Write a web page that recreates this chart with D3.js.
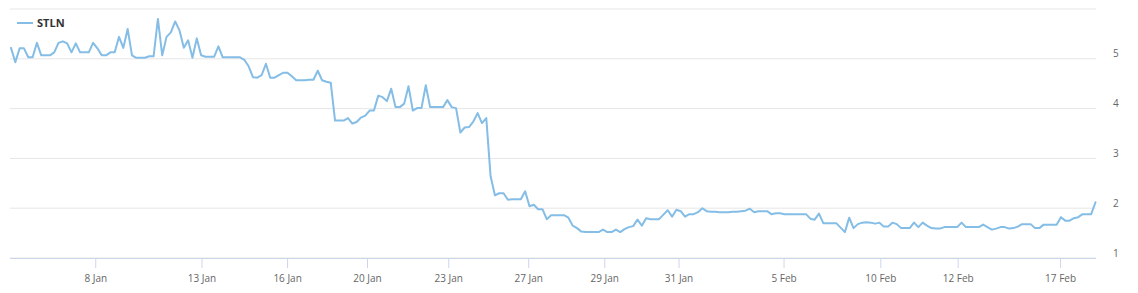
<!DOCTYPE html>
<html><head><meta charset="utf-8">
<script src="https://cdn.jsdelivr.net/npm/d3@7"></script>
<style>
body{margin:0;background:#fff}
svg{display:block;font-family:"Open Sans",sans-serif}
</style>
</head><body>
<svg id="c" width="1138" height="293"></svg>
<script>
const seriesName = "STLN";
const values = [
5.21,4.92,5.20,5.20,5.02,5.02,5.31,5.06,5.06,5.06,
5.12,5.31,5.34,5.30,5.12,5.30,5.12,5.12,5.12,5.31,
5.20,5.06,5.06,5.12,5.12,5.43,5.21,5.59,5.06,5.01,
5.01,5.01,5.04,5.04,5.79,5.06,5.43,5.52,5.74,5.56,
5.21,5.36,5.01,5.40,5.06,5.03,5.03,5.03,5.24,5.02,
5.02,5.02,5.02,5.02,4.97,4.84,4.62,4.61,4.66,4.89,
4.61,4.61,4.66,4.71,4.71,4.64,4.56,4.56,4.56,4.57,
4.57,4.75,4.56,4.53,4.51,3.75,3.75,3.75,3.80,3.69,
3.72,3.81,3.85,3.95,3.95,4.25,4.22,4.14,4.39,4.02,
4.02,4.09,4.44,3.95,4.00,4.00,4.46,4.02,4.02,4.02,
4.02,4.16,4.02,4.00,3.51,3.61,3.62,3.73,3.90,3.70,
3.80,2.63,2.25,2.29,2.29,2.16,2.17,2.17,2.17,2.33,
2.03,2.06,1.97,1.97,1.77,1.85,1.85,1.85,1.85,1.80,
1.64,1.59,1.52,1.51,1.51,1.51,1.51,1.56,1.51,1.51,
1.56,1.51,1.57,1.61,1.63,1.76,1.64,1.79,1.77,1.77,
1.77,1.86,1.95,1.82,1.96,1.93,1.82,1.87,1.87,1.91,
1.99,1.93,1.92,1.92,1.91,1.91,1.91,1.92,1.92,1.93,
1.94,1.98,1.91,1.93,1.93,1.93,1.87,1.89,1.89,1.87,
1.87,1.87,1.87,1.87,1.87,1.78,1.76,1.88,1.69,1.69,
1.69,1.69,1.60,1.51,1.80,1.59,1.67,1.70,1.71,1.70,
1.68,1.70,1.62,1.62,1.70,1.67,1.59,1.59,1.59,1.70,
1.61,1.70,1.64,1.59,1.58,1.58,1.61,1.61,1.61,1.61,
1.70,1.61,1.61,1.61,1.61,1.66,1.61,1.56,1.58,1.61,
1.61,1.58,1.59,1.62,1.67,1.67,1.67,1.59,1.59,1.66,
1.66,1.66,1.66,1.81,1.74,1.74,1.79,1.81,1.87,1.87,
1.87,2.11
];
// x ticks, expressed as positions in the data's point index (ordinal axis)
const tickPositions = [19.5, 44.1, 63.9, 82.4, 101.2, 119.7, 137.3, 154.5, 178.8, 201.2, 219.1, 242.8];
const tickLabels = ["8 Jan","13 Jan","16 Jan","20 Jan","23 Jan","27 Jan","29 Jan","31 Jan","5 Feb","10 Feb","12 Feb","17 Feb"];
const yTicks = [1,2,3,4,5,6];
const yTickLabels = ["1","2","3","4","5",""];

const svg = d3.select("#c");
const left = 10, right = 1096, bottom = 258;
const x = d3.scaleLinear().domain([0, values.length - 1]).range([11, 1095.5]);
const y = d3.scaleLinear().domain([1, 6]).range([257.5, 8.5]);

// y axis with gridlines (right side)
const yAxis = d3.axisRight(y).tickValues(yTicks)
  .tickSize(-(right - left)).tickPadding(17)
  .tickFormat((d, i) => yTickLabels[i]);
const gy = svg.append("g").attr("transform", `translate(${right},0)`).call(yAxis);
gy.select(".domain").remove();
gy.selectAll(".tick line").attr("stroke", "#e6e6e6").attr("stroke-width", 1);
gy.selectAll(".tick text").attr("fill", "#666666").style("font-size", "10px")
  .style("font-family", '"Open Sans",sans-serif').attr("dy", "-0.15em");

// x axis line
svg.append("line").attr("x1", left).attr("x2", right)
  .attr("y1", bottom + 0.5).attr("y2", bottom + 0.5)
  .attr("stroke", "#ccd6eb").attr("stroke-width", 1);

const xAxis = d3.axisBottom(x).tickValues(tickPositions)
  .tickSize(10).tickPadding(7)
  .tickFormat((d, i) => tickLabels[i]);
const gx = svg.append("g").attr("transform", `translate(0,${bottom})`).call(xAxis);
gx.select(".domain").remove();
gx.selectAll(".tick line").attr("stroke", "#ccd6eb");
gx.selectAll(".tick text").attr("fill", "#666666").style("font-size", "10px")
  .style("font-family", '"Open Sans",sans-serif');

// series line
const line = d3.line().x((d, i) => x(i)).y(d => y(d));
svg.append("path").datum(values)
  .attr("d", line).attr("fill", "none")
  .attr("stroke", "#84bde6").attr("stroke-width", 2)
  .attr("stroke-linejoin", "round").attr("stroke-linecap", "round");

// legend
const lg = svg.append("g");
lg.append("line").attr("x1", 17).attr("x2", 33).attr("y1", 23).attr("y2", 23)
  .attr("stroke", "#84bde6").attr("stroke-width", 2);
lg.append("text").attr("x", 37).attr("y", 27)
  .attr("fill", "#333333").style("font-size", "11px").style("font-weight", "bold")
  .text(seriesName);
</script>
</body></html>
